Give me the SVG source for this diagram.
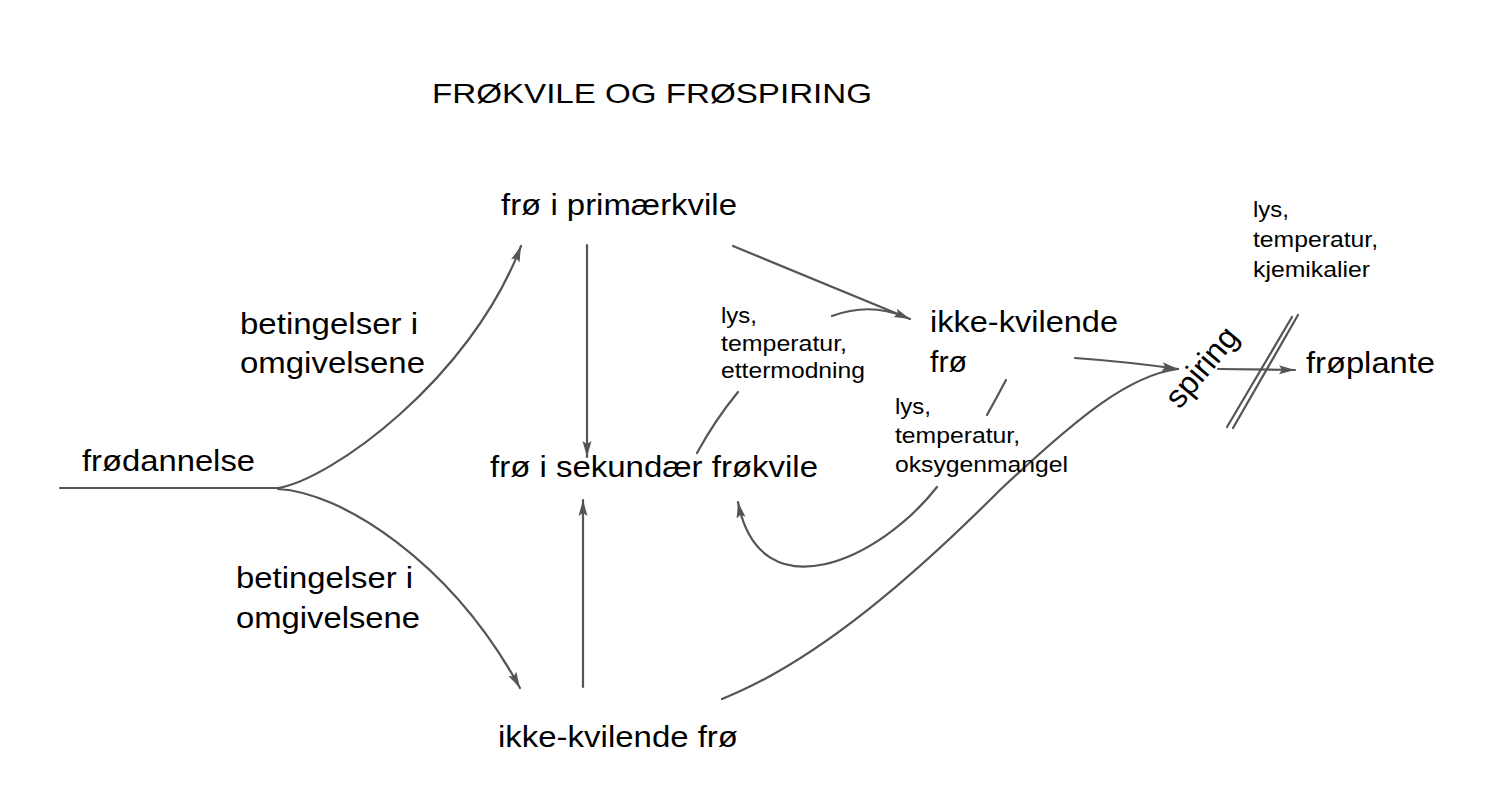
<svg xmlns="http://www.w3.org/2000/svg" width="1500" height="804" viewBox="0 0 1500 804">
<style>
text{font-family:"Liberation Sans",Arial,sans-serif;fill:#000}
.t{font-size:28px}
.m{font-size:30px}
.s{font-size:22px}
.c{fill:none;stroke:#555;stroke-width:2.2;stroke-linecap:round}
.a{marker-end:url(#ah)}
</style>
<defs>
<marker id="ah" markerUnits="userSpaceOnUse" markerWidth="18" markerHeight="10" refX="16" refY="4.5" orient="auto" overflow="visible">
<path d="M0,0 L16,4.5 L0,9 L3,4.5 z" fill="#555"/>
</marker>
</defs>
<rect width="1500" height="804" fill="#fff"/>
<g id="title"><text class="t" x="432" y="103" textLength="440" lengthAdjust="spacingAndGlyphs">FRØKVILE OG FRØSPIRING</text></g>
<g id="connectors">
<path class="c" d="M60,488 L280,488"/>
<path class="c a" d="M278,488 C330,480 470,380 521,246"/>
<path class="c a" d="M278,489 C340,492 450,560 520,688"/>
<path class="c a" d="M587,245 L587,457"/>
<path class="c a" d="M583,687 L583,500"/>
<path class="c a" d="M733,246 L910,319"/>
<path class="c" d="M832,316 Q870,302 905,317"/>
<path class="c" d="M738,392 Q715,420 697,453"/>
<path class="c" d="M1006,380 Q997,397 987,415"/>
<path class="c a" d="M937,487 C880,560 760,615 738,502"/>
<path class="c" d="M722,699 C820,660 920,570 1000,490 C1080,415 1130,375 1178,369"/>
<path class="c a" d="M1075,358 Q1130,362 1178,369"/>
<path class="c a" d="M1218,369 L1295,370"/>
<path class="c" d="M1227,427 L1292,317"/>
<path class="c" d="M1233,428 L1298,315"/>
</g>
<g id="primaer"><text class="m" x="501" y="215" textLength="236" lengthAdjust="spacingAndGlyphs">frø i primærkvile</text></g>
<g id="betingelser1">
<text class="m" x="240" y="334" textLength="178" lengthAdjust="spacingAndGlyphs">betingelser i</text>
<text class="m" x="240" y="373" textLength="185" lengthAdjust="spacingAndGlyphs">omgivelsene</text>
</g>
<g id="frodannelse"><text class="m" x="82" y="471" textLength="173" lengthAdjust="spacingAndGlyphs">frødannelse</text></g>
<g id="sekundaer"><text class="m" x="490" y="477" textLength="328" lengthAdjust="spacingAndGlyphs">frø i sekundær frøkvile</text></g>
<g id="betingelser2">
<text class="m" x="236" y="588" textLength="177" lengthAdjust="spacingAndGlyphs">betingelser i</text>
<text class="m" x="236" y="628" textLength="184" lengthAdjust="spacingAndGlyphs">omgivelsene</text>
</g>
<g id="ikkekvilende1"><text class="m" x="498" y="747" textLength="240" lengthAdjust="spacingAndGlyphs">ikke-kvilende frø</text></g>
<g id="ikkekvilende2">
<text class="m" x="930" y="332" textLength="188" lengthAdjust="spacingAndGlyphs">ikke-kvilende</text>
<text class="m" x="930" y="372" textLength="37" lengthAdjust="spacingAndGlyphs">frø</text>
</g>
<g id="label1">
<text class="s" x="721" y="323" textLength="36" lengthAdjust="spacingAndGlyphs">lys,</text>
<text class="s" x="721" y="351" textLength="126" lengthAdjust="spacingAndGlyphs">temperatur,</text>
<text class="s" x="721" y="378" textLength="144" lengthAdjust="spacingAndGlyphs">ettermodning</text>
</g>
<g id="label2">
<text class="s" x="895" y="414" textLength="36" lengthAdjust="spacingAndGlyphs">lys,</text>
<text class="s" x="895" y="443" textLength="125" lengthAdjust="spacingAndGlyphs">temperatur,</text>
<text class="s" x="895" y="472" textLength="173" lengthAdjust="spacingAndGlyphs">oksygenmangel</text>
</g>
<g id="label3">
<text class="s" x="1253" y="217" textLength="36" lengthAdjust="spacingAndGlyphs">lys,</text>
<text class="s" x="1253" y="247" textLength="125" lengthAdjust="spacingAndGlyphs">temperatur,</text>
<text class="s" x="1253" y="277" textLength="117" lengthAdjust="spacingAndGlyphs">kjemikalier</text>
</g>
<g id="spiring"><text class="m" transform="translate(1203,368) rotate(-50)" x="0" y="9" text-anchor="middle" style="font-size:32px">spiring</text></g>
<g id="froplante"><text class="m" x="1306" y="373" textLength="129" lengthAdjust="spacingAndGlyphs">frøplante</text></g>
</svg>
